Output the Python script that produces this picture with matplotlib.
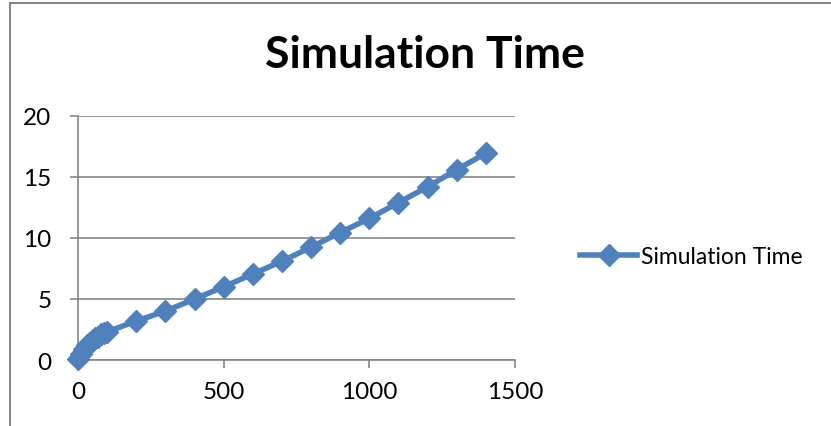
import matplotlib.pyplot as plt
from matplotlib.lines import Line2D

# Data
n_bodies = [1, 10, 20, 30, 40, 50, 60, 70, 80, 90, 100,
            200, 300, 400, 500, 600, 700, 800, 900, 1000, 1100, 1200, 1300, 1400]
sim_time = [0.1, 0.5, 0.9, 1.2, 1.4, 1.6, 1.8, 1.9, 2.1, 2.2, 2.3,
            3.2, 4.0, 5.0, 6.0, 7.05, 8.1, 9.25, 10.45, 11.6, 12.9, 14.2, 15.6, 16.95]
x_ticks = [0, 500, 1000, 1500]
y_ticks = [0, 5, 10, 15, 20]

plt.rcParams['font.family'] = ['Lato', 'DejaVu Sans']
blue = '#4F81BD'
grey = '#868686'

fig = plt.figure(figsize=(8.31, 4.27), dpi=100)
ax = fig.add_axes([78 / 831, 1 - 361 / 427, (515 - 78) / 831, (361 - 117) / 427])

ax.plot(n_bodies, sim_time, color=blue, lw=4, marker='D', ms=11,
        label='Simulation Time', clip_on=False, zorder=3)

ax.set_xlim(0, 1500)
ax.set_ylim(0, 20)
ax.set_xticks(x_ticks)
ax.set_yticks(y_ticks)
ax.grid(axis='y', color=grey, lw=1.2)
ax.set_axisbelow(True)
for s in ['top', 'right']:
    ax.spines[s].set_visible(False)
for s in ['left', 'bottom']:
    ax.spines[s].set_color(grey)
    ax.spines[s].set_linewidth(1.2)
ax.tick_params(colors=grey, labelcolor='black', labelsize=17.5, length=6, width=1.2)
ax.tick_params(axis='x', pad=9)
ax.tick_params(axis='y', pad=13)

fig.text(425 / 831, 1 - 55 / 427, 'Simulation Time', ha='center', va='center',
         fontsize=32, fontweight='bold')

ax.legend(loc='center left', bbox_to_anchor=(580 / 831, 1 - 258 / 427),
          bbox_transform=fig.transFigure, frameon=False, fontsize=16.5,
          handlelength=2.5, handletextpad=0.15, borderpad=0, borderaxespad=0)

# outer chart frame (left and top edges visible)
fig.add_artist(Line2D([10 / 831, 10 / 831], [0, 1 - 4 / 427], color=grey, lw=1.5,
                      transform=fig.transFigure))
fig.add_artist(Line2D([10 / 831, 1], [1 - 4 / 427, 1 - 4 / 427], color=grey, lw=1.5,
                      transform=fig.transFigure))

fig.savefig('out.png', dpi=100)
